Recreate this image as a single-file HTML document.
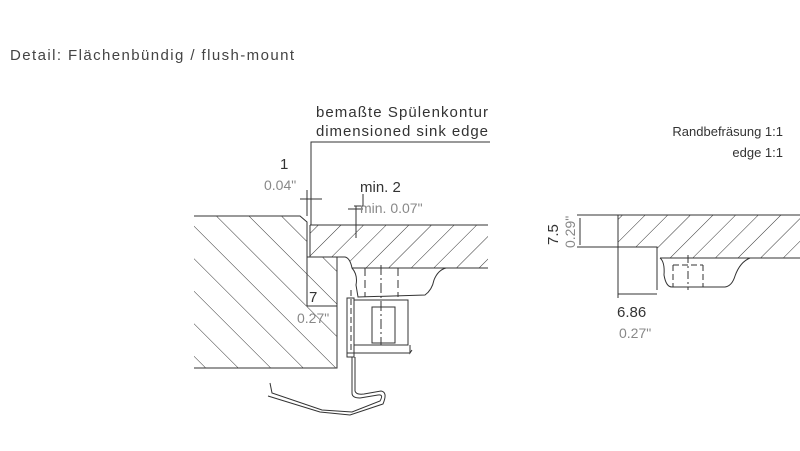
<!DOCTYPE html>
<html><head><meta charset="utf-8"><style>
html,body{margin:0;padding:0;background:#fff;}
svg{display:block;}
text{font-family:"Liberation Sans",sans-serif;}
</style></head><body>
<svg width="800" height="451" viewBox="0 0 800 451" xmlns="http://www.w3.org/2000/svg">
<defs>
<pattern id="h1" patternUnits="userSpaceOnUse" width="23" height="23" patternTransform="rotate(-45)">
<line x1="0" y1="0" x2="0" y2="23" stroke="#333" stroke-width="1"/>
</pattern>
<pattern id="h2" patternUnits="userSpaceOnUse" width="16" height="16" patternTransform="rotate(45)">
<line x1="0" y1="0" x2="0" y2="16" stroke="#333" stroke-width="1"/>
</pattern>
</defs>
<text x="10" y="60" font-size="15" fill="#444" textLength="284">Detail: Flächenbündig / flush-mount</text>
<text x="316" y="117" font-size="15" fill="#333" textLength="172">bemaßte Spülenkontur</text>
<text x="316" y="136" font-size="15" fill="#333" textLength="172">dimensioned sink edge</text>
<text x="783" y="136" font-size="13" fill="#333" text-anchor="end">Randbefräsung 1:1</text>
<text x="783" y="157" font-size="13" fill="#333" text-anchor="end">edge 1:1</text>
<g fill="none" stroke="#333" stroke-width="1">
<path d="M490 142 L311 142 L311 225"/>
<path d="M194 216 L300 216 L307 222 L307 257 L337 257 L337 368 L194 368 Z" fill="url(#h1)" stroke="none"/>
<path d="M194 216 L300 216 L307 222 L307 257 L337 257 L337 368 L194 368"/>
<path d="M307 257 L307 306"/>
<path d="M310 225 L488 225 L488 268 L352 268 Q350 258 345 257 L310 257 Z" fill="url(#h2)" stroke="none"/>
<path d="M310 225 L488 225 M310 225 L310 257 L345 257 Q350 258 352 268 L488 268" />
<path d="M352 268 Q358 275 356 285 L358 297 L425 295 Q432 290 434 280 Q438 270 446 268"/>
<path d="M365 268 L365 297 M398 268 L398 297" stroke-dasharray="8 4"/>
<path d="M381 265 L381 345" stroke-dasharray="10 3 2 3"/>
<path d="M347 298 L354 298 L354 357 L347 357 Z"/>
<path d="M354 300 L408 300 L408 345 L354 345"/>
<path d="M372 307 L395 307 L395 343 L372 343 Z"/>
<path d="M347 353 L410 353 M410 345 L410 353 L412 350"/>
<path d="M351 290 L351 350" stroke-dasharray="6 3"/>
<path d="M352 357 L352 393 Q352 398 360 398 L378 395 Q384 394 380 401 L352 412 L322 410 L272 393 L270 383 M355 357 L355 391 Q356 395 364 394 L381 391 Q388 392 383 404 L350 415 L320 412 L268 396"/>
<path d="M300 199 L322 199 M307 190 L307 216 M311 190 L311 222"/>
<path d="M356 206 L356 238 M354 206 L363 206 L363 194 M348 209 L363 209"/>
<path d="M307 306 L337 306"/>
</g>
<g fill="#333" font-size="15">
<text x="280" y="169">1</text>
<text x="264" y="190" fill="#888" font-size="14">0.04"</text>
<text x="360" y="192">min. 2</text>
<text x="360" y="213" fill="#888" font-size="14">min. 0.07"</text>
<text x="309" y="302">7</text>
<text x="297" y="323" fill="#888" font-size="14">0.27"</text>
</g>
<g fill="none" stroke="#333" stroke-width="1">
<path d="M618 215 L800 215 L800 258 L660 258 L657 247 L618 247 Z" fill="url(#h2)" stroke="none"/>
<path d="M577 215 L800 215 M577 247 L657 247 L657 290 M618 215 L618 298 M660 258 L800 258"/>
<path d="M660 258 Q665 262 664 275 Q666 287 672 287 L725 287 Q732 286 735 276 Q740 262 750 258"/>
<path d="M673 265 L673 287 M703 265 L703 287 M673 265 L703 265" stroke-dasharray="6 3"/>
<path d="M688 255 L688 290" stroke-dasharray="8 3 2 3"/>
<path d="M580 218 L580 245 M618 294 L657 294"/>
</g>
<text transform="translate(558,245) rotate(-90)" font-size="15" fill="#333">7.5</text>
<text transform="translate(575,248) rotate(-90)" font-size="14" fill="#888">0.29"</text>
<text x="617" y="317" font-size="15" fill="#333">6.86</text>
<text x="619" y="338" font-size="14" fill="#888">0.27"</text>
</svg>
</body></html>
